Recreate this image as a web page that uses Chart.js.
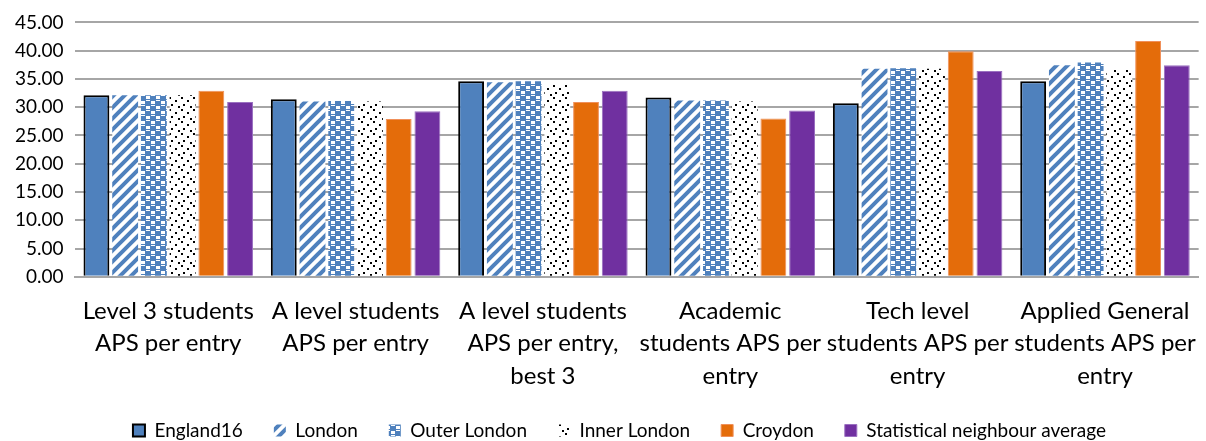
<!DOCTYPE html>
<html>
<head>
<meta charset="utf-8">
<script src="https://cdn.jsdelivr.net/npm/chart.js@4"></script>
<style>
  html, body { margin: 0; padding: 0; background: #fff; }
  #wrap { width: 1206px; height: 441px; }
</style>
</head>
<body>
<div id="wrap"><canvas id="chart" width="1206" height="441"></canvas></div>
<script>
// Data
const categories = [
  ['Level 3 students', 'APS per entry'],
  ['A level students', 'APS per entry'],
  ['A level students', 'APS per entry,', 'best 3'],
  ['Academic', 'students APS per', 'entry'],
  ['Tech level', 'students APS per', 'entry'],
  ['Applied General', 'students APS per', 'entry']
];
const seriesNames = ['England16', 'London', 'Outer London', 'Inner London', 'Croydon', 'Statistical neighbour average'];
const england16 = [32.1, 31.4, 34.6, 31.7, 30.7, 34.6];
const london = [32.1, 31.0, 34.4, 31.2, 36.8, 37.4];
const outerLondon = [32.1, 31.1, 34.6, 31.2, 36.9, 37.9];
const innerLondon = [32.1, 31.0, 34.0, 31.0, 36.8, 36.6];
const croydon = [32.9, 27.9, 30.9, 28.0, 39.9, 41.7];
const statNeighbour = [30.9, 29.3, 32.9, 29.4, 36.4, 37.4];
const yMin = 0, yMax = 45, yStep = 5;

const BLUE = '#4F81BD';

// Pattern fills
function makePattern(w, h, draw) {
  const c = document.createElement('canvas');
  c.width = w; c.height = h;
  const g = c.getContext('2d');
  g.fillStyle = '#fff';
  g.fillRect(0, 0, w, h);
  draw(g);
  return document.getElementById('chart').getContext('2d').createPattern(c, 'repeat');
}

// diagonal stripes, rising left to right
const stripes = makePattern(11, 11, g => {
  g.strokeStyle = BLUE;
  g.lineWidth = 4;
  g.beginPath();
  g.moveTo(-3, 14); g.lineTo(14, -3);
  g.moveTo(-3, 3); g.lineTo(3, -3);
  g.moveTo(8, 14); g.lineTo(14, 8);
  g.stroke();
});

// blue grid with white cells
const checks = makePattern(10, 10, g => {
  g.fillStyle = BLUE;
  g.fillRect(0, 0, 10, 10);
  g.fillStyle = '#fff';
  g.fillRect(1, 1, 4, 3);
  g.fillRect(6, 6, 4, 3);
  g.fillRect(1, 5, 4, 1);
  g.fillRect(6, 0, 4, 1);
});

// sparse black dots
const dots = makePattern(12, 12, g => {
  g.fillStyle = '#000';
  g.fillRect(1, 1, 2, 2);
  g.fillRect(7, 4, 2, 2);
  g.fillRect(3, 8, 2, 2);
  g.fillRect(10, 10, 2, 2);
});

// tighter legend block near the bottom edge, nudged right like the original
const legendFit = {
  id: 'legendFit',
  beforeInit(chart) {
    const lg = chart.legend;
    const origFit = lg.fit;
    lg.fit = function () {
      origFit.call(this);
      this.height -= 21;
    };
    const origDraw = lg.draw;
    lg.draw = function () {
      const box = { top: this.top, left: this.left, right: this.right };
      this.top -= 12;
      this.left += 16;
      this.right += 16;
      origDraw.call(this);
      Object.assign(this, box);
    };
  }
};

const ctx = document.getElementById('chart').getContext('2d');
new Chart(ctx, {
  type: 'bar',
  data: {
    labels: categories,
    datasets: [
      { label: seriesNames[0], data: england16, backgroundColor: BLUE, borderColor: '#000', borderWidth: 2 },
      { label: seriesNames[1], data: london, backgroundColor: stripes, borderWidth: 0 },
      { label: seriesNames[2], data: outerLondon, backgroundColor: checks, borderWidth: 0 },
      { label: seriesNames[3], data: innerLondon, backgroundColor: dots, borderWidth: 0 },
      { label: seriesNames[4], data: croydon, backgroundColor: '#E46C0A', borderColor: '#F0905A', borderWidth: 1 },
      { label: seriesNames[5], data: statNeighbour, backgroundColor: '#7030A0', borderColor: '#9A70C0', borderWidth: 1 }
    ]
  },
  plugins: [legendFit],
  options: {
    responsive: false,
    animation: false,
    layout: { padding: { top: 2, right: 3, left: 4, bottom: 0 } },
    datasets: { bar: { barPercentage: 0.9, categoryPercentage: 0.92 } },
    plugins: {
      tooltip: { enabled: false },
      legend: {
        position: 'bottom',
        labels: {
          boxWidth: 12, boxHeight: 12, padding: 31,
          color: '#000',
          font: { family: 'Lato', size: 19 }
        }
      }
    },
    scales: {
      x: {
        grid: { display: false },
        border: { color: '#A6A6A6', width: 2 },
        ticks: {
          color: '#000', maxRotation: 0, autoSkip: false, padding: 10,
          font: { family: 'Lato', size: 24, lineHeight: 1.35 }
        }
      },
      y: {
        min: yMin, max: yMax,
        border: { display: false },
        grid: { color: '#A6A6A6', lineWidth: 2, drawTicks: false },
        ticks: {
          stepSize: yStep, autoSkip: false,
          color: '#000', padding: 11,
          font: { family: 'Lato', size: 19 },
          callback: v => Number(v).toFixed(2)
        }
      }
    }
  }
});
</script>
</body>
</html>
